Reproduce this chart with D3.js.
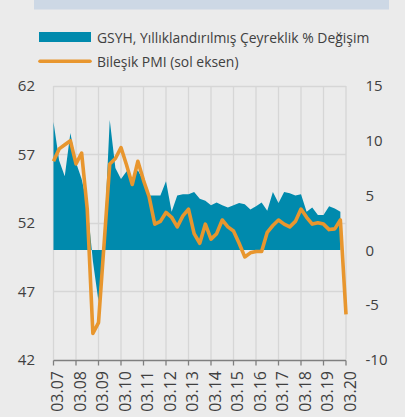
<!DOCTYPE html>
<html>
<head>
<meta charset="utf-8">
<script src="https://cdn.jsdelivr.net/npm/d3@7"></script>
<style>
  body { margin: 0; background: #ebebeb; }
  svg text { font-family: "Open Sans", sans-serif; fill: #404040; }
</style>
</head>
<body>
<div id="chart"></div>
<script>
// quarterly data, 2007Q1 .. 2020Q1
var tickLabels = ["03.07", "03.08", "03.09", "03.10", "03.11", "03.12", "03.13",
                  "03.14", "03.15", "03.16", "03.17", "03.18", "03.19", "03.20"];

// GSYH, annualised q/q % change (right axis), 2007Q1 .. 2019Q4
var gdp = [11.7, 8.2, 6.75, 10.7, 8.0, 6.5, 4.2, -1.0, -4.7, 1.0,
           11.9, 7.5, 6.5, 7.2, 6.6, 7.3, 6.3, 5.0, 5.0, 5.0,
           6.3, 3.5, 5.0, 5.1, 5.1, 5.3, 4.7, 4.5, 4.1, 4.35,
           4.1, 3.9, 4.1, 4.3, 4.2, 3.7, 4.0, 4.35, 3.6, 5.3,
           4.3, 5.3, 5.2, 5.0, 5.1, 3.5, 3.9, 3.2, 3.2, 4.0,
           3.8, 3.5];

// Bileşik PMI (left axis), 2007Q1 .. 2020Q1
var pmi = [56.5, 57.4, 57.7, 58.0, 56.3, 57.1, 53.0, 43.9, 44.7, 50.5,
           56.3, 56.7, 57.5, 56.2, 54.8, 56.5, 55.1, 53.9, 51.9, 52.1,
           52.75, 52.4, 51.7, 52.5, 53.0, 51.2, 50.5, 51.9, 50.8, 51.2,
           52.2, 51.7, 51.4, 50.5, 49.5, 49.8, 49.9, 49.9, 51.3, 51.8,
           52.2, 51.9, 51.7, 52.1, 53.0, 52.4, 51.9, 52.0, 51.9, 51.5,
           51.55, 52.2, 45.3];

var leftTicks = [42, 47, 52, 57, 62];
var rightTicks = [-10, -5, 0, 5, 10, 15];
var legendLabels = ["GSYH, Yıllıklandırılmış Çeyreklik % Değişim", "Bileşik PMI (sol eksen)"];

var width = 405, height = 417,
    plot = {left: 53.5, right: 346, top: 86, bottom: 359.5},
    teal = "#008aad", orange = "#e8962e";

var svg = d3.select("#chart").append("svg")
    .attr("width", width)
    .attr("height", height);

// light band at the very top
svg.append("rect")
    .attr("x", 34).attr("y", 0)
    .attr("width", 355).attr("height", 9.5)
    .attr("fill", "#cdd8e5");

var x = d3.scaleLinear().domain([0, pmi.length - 1]).range([plot.left, plot.right]);
var yL = d3.scaleLinear().domain([42, 62]).range([plot.bottom, plot.top]);
var yR = d3.scaleLinear().domain([-10, 15]).range([plot.bottom, plot.top]);

// gridlines
svg.append("g").selectAll("line.h")
    .data(leftTicks.slice(1))
    .enter().append("line")
    .attr("x1", plot.left).attr("x2", plot.right)
    .attr("y1", function(d) { return Math.round(yL(d)) + 0.5; })
    .attr("y2", function(d) { return Math.round(yL(d)) + 0.5; })
    .attr("stroke", "#d6d6d6").attr("stroke-width", 1.3);

svg.append("g").selectAll("line.v")
    .data(tickLabels)
    .enter().append("line")
    .attr("x1", function(d, i) { return x(i * 4); })
    .attr("x2", function(d, i) { return x(i * 4); })
    .attr("y1", plot.top).attr("y2", plot.bottom)
    .attr("stroke", "#d6d6d6").attr("stroke-width", 1.3);

// GDP area against the zero of the right axis
var area = d3.area()
    .x(function(d, i) { return x(i); })
    .y0(yR(0))
    .y1(function(d) { return yR(d); });

svg.append("path")
    .datum(gdp)
    .attr("fill", teal)
    .attr("d", area);

// PMI line
var line = d3.line()
    .x(function(d, i) { return x(i); })
    .y(function(d) { return yL(d); });

svg.append("path")
    .datum(pmi)
    .attr("fill", "none")
    .attr("stroke", orange)
    .attr("stroke-width", 3.6)
    .attr("stroke-linejoin", "round")
    .attr("d", line);

// bottom axis
var xAxis = svg.append("g");
xAxis.append("line")
    .attr("x1", plot.left).attr("x2", plot.right)
    .attr("y1", 360.5).attr("y2", 360.5)
    .attr("stroke", "#7f7f7f").attr("stroke-width", 1.3);
xAxis.selectAll("line.tick")
    .data(tickLabels)
    .enter().append("line")
    .attr("x1", function(d, i) { return x(i * 4); })
    .attr("x2", function(d, i) { return x(i * 4); })
    .attr("y1", 360.5).attr("y2", 365.5)
    .attr("stroke", "#7f7f7f").attr("stroke-width", 1.3);
xAxis.selectAll("text")
    .data(tickLabels)
    .enter().append("text")
    .attr("transform", function(d, i) { return "translate(" + x(i * 4) + ",371) rotate(-90)"; })
    .attr("dy", "9.6")
    .attr("text-anchor", "end")
    .style("font-size", "16px")
    .text(function(d) { return d; });

// left and right axis labels
svg.append("g").selectAll("text")
    .data(leftTicks)
    .enter().append("text")
    .attr("x", 35).attr("y", function(d) { return yL(d); })
    .attr("dy", "0.36em")
    .attr("text-anchor", "end")
    .style("font-size", "15px")
    .text(function(d) { return d; });

svg.append("g").selectAll("text")
    .data(rightTicks)
    .enter().append("text")
    .attr("x", 365.5).attr("y", function(d) { return yR(d); })
    .attr("dy", "0.36em")
    .style("font-size", "15px")
    .text(function(d) { return d; });

// legend
var legend = svg.append("g");
legend.append("rect")
    .attr("x", 39).attr("y", 32)
    .attr("width", 52).attr("height", 10)
    .attr("fill", teal);
legend.append("line")
    .attr("x1", 40).attr("x2", 90)
    .attr("y1", 61.3).attr("y2", 61.3)
    .attr("stroke", orange).attr("stroke-width", 3.6)
    .attr("stroke-linecap", "round");
legend.selectAll("text")
    .data(legendLabels)
    .enter().append("text")
    .attr("x", 97)
    .attr("y", function(d, i) { return 37.5 + i * 24.5; })
    .attr("dy", "0.36em")
    .style("font-size", "13.9px")
    .text(function(d) { return d; });
</script>
</body>
</html>
